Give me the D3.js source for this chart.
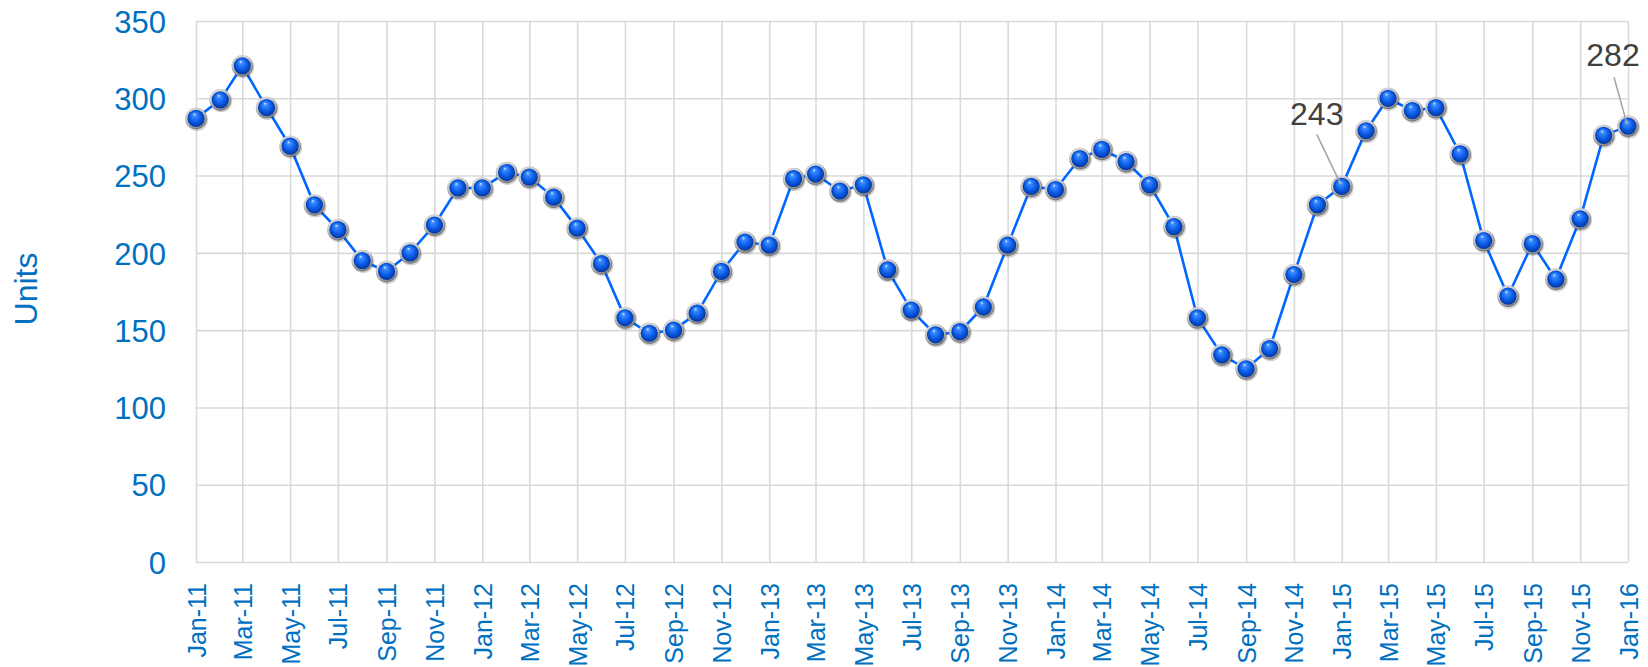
<!DOCTYPE html>
<head>
<meta charset="utf-8">
<style>
  body { margin: 0; background: #fff; }
  svg text { font-family: 'Liberation Sans', Arial, sans-serif; }
  .grid line { stroke: #d9d9d9; stroke-width: 1.6; }
  .grid path { display: none; }
  .tick-y text { fill: #0070c0; font-size: 31px; }
  .tick-x text { fill: #0070c0; font-size: 25px; }
  .callout { fill: #404040; font-size: 32px; }
</style>
<title>Units</title>
</head>
<body>
<svg width="1648" height="667"></svg>
<script src="https://cdn.jsdelivr.net/npm/d3@7"></script>
<script>

var months = ["Jan-11","Feb-11","Mar-11","Apr-11","May-11","Jun-11","Jul-11","Aug-11","Sep-11","Oct-11","Nov-11","Dec-11",
              "Jan-12","Feb-12","Mar-12","Apr-12","May-12","Jun-12","Jul-12","Aug-12","Sep-12","Oct-12","Nov-12","Dec-12",
              "Jan-13","Feb-13","Mar-13","Apr-13","May-13","Jun-13","Jul-13","Aug-13","Sep-13","Oct-13","Nov-13","Dec-13",
              "Jan-14","Feb-14","Mar-14","Apr-14","May-14","Jun-14","Jul-14","Aug-14","Sep-14","Oct-14","Nov-14","Dec-14",
              "Jan-15","Feb-15","Mar-15","Apr-15","May-15","Jun-15","Jul-15","Aug-15","Sep-15","Oct-15","Nov-15","Dec-15",
              "Jan-16"];

var units = [287,299,321,294,269,231,215,195,188,200,218,242,
             242,252,249,236,216,193,158,148,150,161,188,207,
             205,248,251,240,244,189,163,147,149,165,205,243,
             241,261,267,259,244,217,158,134,125,138,186,231,
             243,279,300,292,294,264,208,172,206,183,222,276,
             282];

var yTicks = [0,50,100,150,200,250,300,350];

// labelled points
var callouts = ["Jan-15","Jan-16"];

var parse = d3.timeParse("%b-%y"),
    fmt = d3.timeFormat("%b-%y");

var data = months.map(function(m, i) { return {date: parse(m), value: units[i], name: m}; });

var svg = d3.select("svg"),
    margin = {top: 21, right: 20, bottom: 105, left: 196},
    width = +svg.attr("width") - margin.left - margin.right,
    height = +svg.attr("height") - margin.top - margin.bottom;

var x = d3.scaleTime().domain([parse("Jan-11"), parse("Jan-16")]).range([0, width]),
    y = d3.scaleLinear().domain([0, 350]).range([height, 0]);

var g = svg.append("g")
    .attr("transform", "translate(" + margin.left + "," + margin.top + ")");

// marker gradients
var defs = svg.append("defs");
var ring = defs.append("radialGradient").attr("id", "ring")
    .attr("cx", "45%").attr("cy", "40%").attr("r", "60%");
ring.append("stop").attr("offset", "0%").attr("stop-color", "#ffffff");
ring.append("stop").attr("offset", "70%").attr("stop-color", "#c8c8c8");
ring.append("stop").attr("offset", "100%").attr("stop-color", "#6e6e6e");

var ball = defs.append("radialGradient").attr("id", "ball")
    .attr("cx", "50%").attr("cy", "50%").attr("r", "55%")
    .attr("fx", "40%").attr("fy", "25%");
ball.append("stop").attr("offset", "0%").attr("stop-color", "#d8ecff");
ball.append("stop").attr("offset", "18%").attr("stop-color", "#3b8cff");
ball.append("stop").attr("offset", "60%").attr("stop-color", "#0a5ae6");
ball.append("stop").attr("offset", "100%").attr("stop-color", "#02308f");

// gridlines
var xTickDates = d3.timeMonth.every(2).range(parse("Jan-11"), d3.timeDay.offset(parse("Jan-16"), 1));

g.append("g")
    .attr("class", "grid")
    .call(d3.axisLeft(y).tickValues(yTicks).tickSize(-width).tickFormat(""));

g.append("g")
    .attr("class", "grid")
    .attr("transform", "translate(0," + height + ")")
    .call(d3.axisBottom(x).tickValues(xTickDates).tickSize(-height).tickFormat(""));

// axes labels
var yAxis = g.append("g")
    .attr("class", "tick-y")
    .call(d3.axisLeft(y).tickValues(yTicks).tickSize(0).tickPadding(30));
yAxis.select(".domain").remove();
yAxis.selectAll("text").attr("dy", "0.36em");

var xAxis = g.append("g")
    .attr("class", "tick-x")
    .attr("transform", "translate(0," + height + ")")
    .call(d3.axisBottom(x).tickValues(xTickDates).tickSize(0).tickFormat(fmt));
xAxis.select(".domain").remove();
xAxis.selectAll("text")
    .attr("transform", "rotate(-90)")
    .attr("text-anchor", "end")
    .attr("x", -21)
    .attr("y", 0)
    .attr("dy", "0.36em");

svg.append("text")
    .attr("transform", "translate(36.5,289) rotate(-90)")
    .attr("text-anchor", "middle")
    .style("fill", "#0070c0")
    .style("font-size", "32px")
    .text("Units");

// line
var line = d3.line()
    .x(function(d) { return x(d.date); })
    .y(function(d) { return y(d.value); });

g.append("path")
    .datum(data)
    .attr("fill", "none")
    .attr("stroke", "#0066ff")
    .attr("stroke-width", 2.6)
    .attr("d", line);

// balls
var pts = g.selectAll(".pt")
    .data(data)
    .enter().append("g")
      .attr("class", "pt")
      .attr("transform", function(d) { return "translate(" + x(d.date) + "," + y(d.value) + ")"; });

pts.append("circle").attr("r", 11).attr("cx", 1).attr("cy", 1.5).attr("fill", "rgba(0,0,0,0.18)");
pts.append("circle").attr("r", 10.8).attr("fill", "url(#ring)");
pts.append("circle").attr("r", 8.6).attr("fill", "url(#ball)");

// callouts: [text dx, text baseline dy, leader start dx, leader start dy]
var lab = data.filter(function(d) { return callouts.indexOf(d.name) >= 0; });
var offs = {"Jan-15": [-25, -61, -25, -52], "Jan-16": [-15, -60, -14, -49]};

lab.forEach(function(d) {
  var px = x(d.date), py = y(d.value), o = offs[d.name];
  g.append("line")
      .attr("x1", px + o[2]).attr("y1", py + o[3])
      .attr("x2", px - 1).attr("y2", py - 2)
      .attr("stroke", "#a6a6a6")
      .attr("stroke-width", 1.6);
  g.append("text")
      .attr("class", "callout")
      .attr("x", px + o[0])
      .attr("y", py + o[1])
      .attr("text-anchor", "middle")
      .text(d.value);
});

</script>
</body>
